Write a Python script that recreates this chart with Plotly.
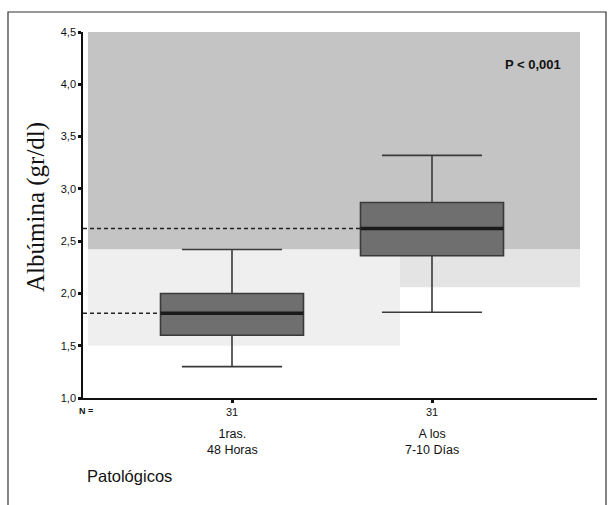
import plotly.graph_objects as go

# ---- data ----
categories = ["1ras.<br>48 Horas", "A los<br>7-10 Días"]
n_values = ["31", "31"]
q1 = [1.60, 2.36]
median = [1.81, 2.62]
q3 = [2.00, 2.87]
lower = [1.30, 1.82]
upper = [2.42, 3.32]
ytick_vals = [1.0, 1.5, 2.0, 2.5, 3.0, 3.5, 4.0, 4.5]
ytick_text = ["1,0", "1,5", "2,0", "2,5", "3,0", "3,5", "4,0", "4,5"]

pos = [0, 1]
BW = 0.715
XMIN, XMAX = -0.745, 1.825

fig = go.Figure()

# background scan-like shading
fig.add_shape(type="rect", xref="x", yref="y", x0=-0.72, x1=1.74, y0=2.42, y1=4.5,
              fillcolor="#c4c4c4", line_width=0, layer="below")
fig.add_shape(type="rect", xref="x", yref="y", x0=-0.72, x1=0.84, y0=1.5, y1=2.42,
              fillcolor="#efefef", line_width=0, layer="below")
fig.add_shape(type="rect", xref="x", yref="y", x0=0.84, x1=1.74, y0=2.06, y1=2.42,
              fillcolor="#e4e4e4", line_width=0, layer="below")

for i in range(len(pos)):
    fig.add_trace(go.Box(
        x=[pos[i]], q1=[q1[i]], median=[median[i]], q3=[q3[i]],
        lowerfence=[lower[i]], upperfence=[upper[i]],
        width=BW, whiskerwidth=0.7,
        fillcolor="#6f6f6f", line=dict(color="#3a3a3a", width=1.6),
        boxpoints=False, showlegend=False, hoverinfo="skip"))
    # thick median
    fig.add_trace(go.Scatter(
        x=[pos[i] - BW / 2, pos[i] + BW / 2], y=[median[i], median[i]],
        mode="lines", line=dict(color="#1a1a1a", width=3.5),
        showlegend=False, hoverinfo="skip"))
    # dashed reference to y axis
    fig.add_trace(go.Scatter(
        x=[XMIN, pos[i] - BW / 2], y=[median[i], median[i]],
        mode="lines", line=dict(color="#222222", width=1.5, dash="4px,3px"),
        showlegend=False, hoverinfo="skip"))

fig.update_layout(
    width=610, height=505,
    margin=dict(l=83, r=13, t=32, b=107),
    paper_bgcolor="white", plot_bgcolor="white",
    font=dict(family="Liberation Sans, Arial, sans-serif", color="#111111"),
    xaxis=dict(range=[XMIN, XMAX], tickvals=pos, ticktext=n_values,
               showline=True, linecolor="#111111", linewidth=1.5,
               ticks="outside", ticklen=3, tickwidth=3, tickcolor="#111111",
               showgrid=False, zeroline=False, tickfont=dict(size=11)),
    yaxis=dict(range=[1.0, 4.5], tickvals=ytick_vals, ticktext=ytick_text,
               showline=True, linecolor="#111111", linewidth=1.5,
               ticks="outside", ticklen=3, tickwidth=3, tickcolor="#111111",
               showgrid=False, zeroline=False, tickfont=dict(size=11)),
)

# category labels under the N values
for i in range(len(pos)):
    fig.add_annotation(x=pos[i], xref="x", y=0, yref="paper", yshift=-27,
                       text=categories[i], showarrow=False, yanchor="top",
                       font=dict(size=12.5, color="#111111"), align="center")

fig.add_annotation(x=0, xref="paper", y=0, yref="paper", yshift=-13, xshift=3,
                   text="<b>N =</b>", showarrow=False, xanchor="center", yanchor="middle",
                   font=dict(size=9, color="#111111"))

fig.add_annotation(x=(85 - 83) / 514, xref="paper", y=(398 - 476) / 366, yref="paper",
                   text="Patológicos", showarrow=False, xanchor="left", yanchor="middle",
                   font=dict(size=16.5, color="#111111"))

fig.add_annotation(x=(20 - 83) / 514, xref="paper", y=(398 - 207) / 366, yref="paper",
                   text="Albúmina (gr/dl)", textangle=-90, showarrow=False,
                   font=dict(family="Liberation Serif, Times New Roman, serif", size=25,
                             color="#111111"))

fig.add_annotation(x=(563 - 83) / 514, xref="paper", y=(398 - 55) / 366, yref="paper",
                   text="<b>P < 0,001</b>", showarrow=False, xanchor="right",
                   font=dict(size=13, color="#111111"))

# outer frame
fig.add_shape(type="rect", xref="paper", yref="paper",
              x0=(8 - 83) / 514, x1=(606 - 83) / 514,
              y0=(398 - 520) / 366, y1=(398 - 12) / 366,
              line=dict(color="#333333", width=1.2), fillcolor="rgba(0,0,0,0)")

fig.write_html("out.html")
